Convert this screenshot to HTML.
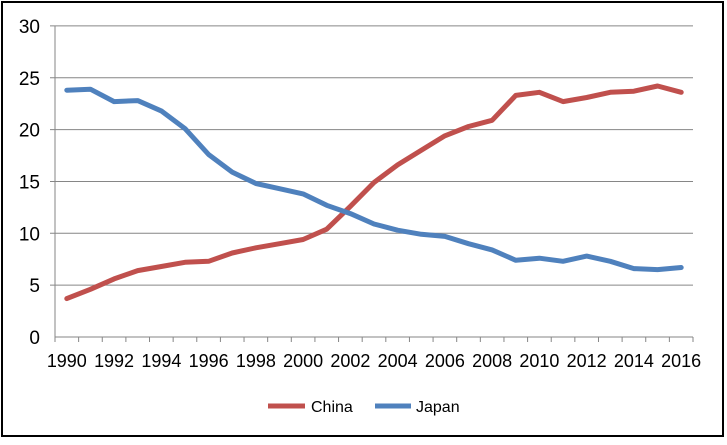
<!DOCTYPE html>
<html><head><meta charset="utf-8"><style>
body{margin:0;background:#fff;}
svg text{font-family:"Liberation Sans",Calibri,sans-serif;fill:#000;}
</style></head><body>
<svg id="s" width="727" height="440" xmlns="http://www.w3.org/2000/svg">
<rect x="2" y="2" width="721" height="434" fill="#fff" stroke="#000" stroke-width="2"/>
</svg>
<script>
const s=document.getElementById('s');const NS='http://www.w3.org/2000/svg';
function el(t,a,txt){const e=document.createElementNS(NS,t);for(const k in a)e.setAttribute(k,a[k]);if(txt!=null)e.textContent=txt;s.appendChild(e);return e;}
const x0=55,x1=693,y0=337,py=10.37,cw=(x1-x0)/27;
for(let v=5;v<=30;v+=5){const y=y0-v*py;el('line',{x1:50,x2:x1,y1:y,y2:y,stroke:'#868686','stroke-width':1});}
for(let v=0;v<=30;v+=5){el('text',{x:40,y:y0-v*py+7,'text-anchor':'end','font-size':19},v);}
el('line',{x1:x0,x2:x0,y1:26,y2:y0+5,stroke:'#868686'});
el('line',{x1:x0,x2:x1,y1:y0,y2:y0,stroke:'#868686'});
for(let i=0;i<=27;i++){const x=x0+i*cw;el('line',{x1:x,x2:x,y1:y0,y2:y0+5,stroke:'#868686'});}
for(let yr=1990;yr<=2016;yr+=2){el('text',{x:x0+(yr-1990+0.5)*cw,y:y0+30,'text-anchor':'middle','font-size':18,'textLength':40,'lengthAdjust':'spacingAndGlyphs'},yr);}
const china=[3.7,4.6,5.6,6.4,6.8,7.2,7.3,8.1,8.6,9.0,9.4,10.4,12.6,14.9,16.6,18.0,19.4,20.3,20.9,23.3,23.6,22.7,23.1,23.6,23.7,24.2,23.6];
const japan=[23.8,23.9,22.7,22.8,21.8,20.1,17.6,15.9,14.8,14.3,13.8,12.7,11.9,10.9,10.3,9.9,9.7,9.0,8.4,7.4,7.6,7.3,7.8,7.3,6.6,6.5,6.7];
function pts(d){return d.map((v,i)=>(x0+(i+0.5)*cw).toFixed(1)+','+(y0-v*py).toFixed(1)).join(' ');}
el('polyline',{points:pts(china),fill:'none',stroke:'#c0504d','stroke-width':5,'stroke-linejoin':'round','stroke-linecap':'round'});
el('polyline',{points:pts(japan),fill:'none',stroke:'#4f81bd','stroke-width':5,'stroke-linejoin':'round','stroke-linecap':'round'});
el('line',{x1:268,x2:305,y1:406,y2:406,stroke:'#c0504d','stroke-width':5});
el('text',{x:311,y:412,'font-size':16},'China');
el('line',{x1:375,x2:411,y1:406,y2:406,stroke:'#4f81bd','stroke-width':5});
el('text',{x:416,y:412,'font-size':16},'Japan');
</script>
</body></html>
